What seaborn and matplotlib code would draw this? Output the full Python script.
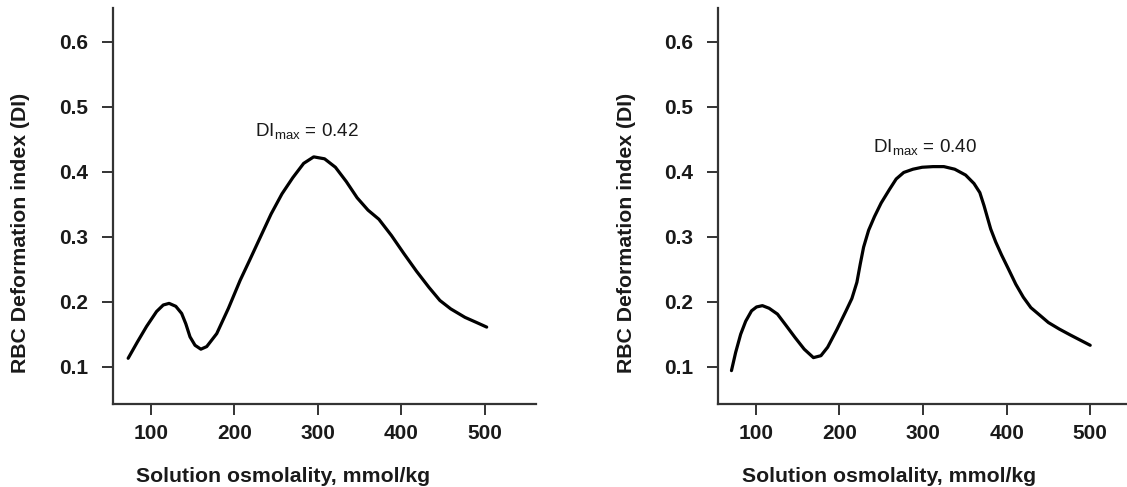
import numpy as np
import pandas as pd
import matplotlib
matplotlib.use("Agg")
import matplotlib.pyplot as plt
import seaborn as sns

# Data (osmolality mmol/kg vs deformation index)
left_osm = [73, 84, 95, 107, 115, 122, 130, 137, 142, 147, 153, 160, 167, 173, 179, 193, 207, 218, 231, 244, 257,
            270, 283, 295, 308, 321, 334, 347, 360, 373, 388, 403, 418, 433, 446, 459, 476, 490, 502]
left_di = [0.113, 0.138, 0.162, 0.185, 0.195, 0.1975, 0.193, 0.182, 0.166, 0.146, 0.133, 0.127, 0.131, 0.141,
           0.151, 0.190, 0.233, 0.263, 0.299, 0.335, 0.366, 0.391, 0.413, 0.423, 0.420, 0.407, 0.385, 0.360, 0.341,
           0.327, 0.302, 0.274, 0.247, 0.222, 0.202, 0.189, 0.176, 0.168, 0.161]

right_osm = [71, 76, 82, 88, 95, 101, 108, 116, 126, 136, 147, 158, 169, 178, 186, 197, 208, 215, 221, 225, 229,
             235, 242, 250, 260, 268, 277, 288, 299, 312, 325, 338, 351, 361, 368, 373, 377, 381, 387, 394, 402,
             411, 420, 429, 440, 450, 463, 476, 488, 500]
right_di = [0.094, 0.122, 0.150, 0.170, 0.186, 0.192, 0.194, 0.190, 0.181, 0.164, 0.145, 0.127, 0.114, 0.117,
            0.130, 0.157, 0.186, 0.205, 0.230, 0.258, 0.284, 0.310, 0.331, 0.352, 0.373, 0.389, 0.399, 0.404, 0.407,
            0.408, 0.408, 0.404, 0.395, 0.382, 0.368, 0.348, 0.330, 0.312, 0.292, 0.272, 0.251, 0.227, 0.207, 0.191,
            0.179, 0.168, 0.158, 0.149, 0.141, 0.133]

panels = [
    (left_osm, left_di, r"DI$_{\mathrm{max}}$ = 0.42", (225, 0.455), (54.5, 561)),
    (right_osm, right_di, r"DI$_{\mathrm{max}}$ = 0.40", (240, 0.431), (54.5, 544)),
]

sns.set_theme(style="ticks")
plt.rcParams["font.family"] = ["Liberation Sans", "DejaVu Sans"]
plt.rcParams["mathtext.fontset"] = "custom"
plt.rcParams["mathtext.rm"] = "Liberation Sans"
plt.rcParams["mathtext.it"] = "Liberation Sans:italic"

fig = plt.figure(figsize=(11.27, 4.87), dpi=100)
boxes = [[0.100, 0.1704, 0.3756, 0.813], [0.6368, 0.1704, 0.3632, 0.813]]
xlabel_x = [0.402, 0.419]
ylabel_x = [-0.195, -0.2]

for i, (osm, di, note, note_pos, xlim) in enumerate(panels):
    ax = fig.add_axes(boxes[i])
    df = pd.DataFrame({"osm": osm, "di": di})
    sns.lineplot(data=df, x="osm", y="di", ax=ax, color="black", linewidth=2.3, sort=False)
    ax.set_xlim(*xlim)
    ax.set_ylim(0.0426, 0.652)
    ax.set_xticks([100, 200, 300, 400, 500])
    ax.set_yticks([0.1, 0.2, 0.3, 0.4, 0.5, 0.6])
    ax.set_yticklabels(["0.1", "0.2", "0.3", "0.4", "0.5", "0.6"])
    sns.despine(ax=ax)
    for s in ["left", "bottom"]:
        ax.spines[s].set_color("#333333")
        ax.spines[s].set_linewidth(1.6)
    ax.tick_params(axis="both", direction="out", length=8, width=1.4, color="#333333",
                   labelsize=15, labelcolor="#1a1a1a")
    ax.tick_params(axis="y", pad=9.5)
    ax.tick_params(axis="x", pad=6.5)
    for lab in ax.get_xticklabels() + ax.get_yticklabels():
        lab.set_fontweight("bold")
    ax.set_xlabel("Solution osmolality, mmol/kg", fontsize=15.3, fontweight="bold", color="#1a1a1a")
    ax.set_ylabel("RBC Deformation index (DI)", fontsize=15.3, fontweight="bold", color="#1a1a1a")
    ax.xaxis.set_label_coords(xlabel_x[i], -0.159)
    ax.yaxis.set_label_coords(ylabel_x[i], 0.432)
    ax.text(note_pos[0], note_pos[1], note, fontsize=13.6, ha="left", va="baseline", color="#1a1a1a")

fig.savefig("out.png", dpi=100)
